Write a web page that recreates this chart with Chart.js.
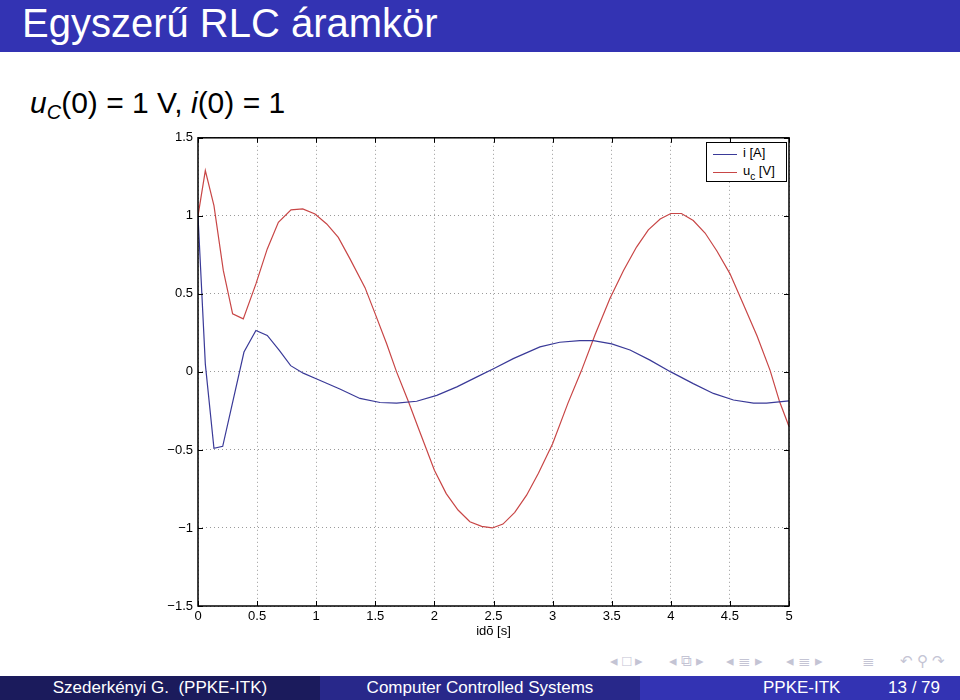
<!DOCTYPE html>
<html>
<head>
<meta charset="utf-8">
<script src="https://cdn.jsdelivr.net/npm/chart.js@4.4.1/dist/chart.umd.min.js"></script>
<style>
  html, body { margin: 0; padding: 0; }
  body { width: 960px; height: 700px; position: relative; overflow: hidden; background: #fff; font-family: "Liberation Sans", Arial, sans-serif; }
  #titlebar { position: absolute; left: 0; top: 0; width: 960px; height: 52px; background: #3333b3; }
  #titlebar span { position: absolute; left: 22px; top: 1px; color: #fff; font-size: 40px; }
  #subtitle { position: absolute; left: 30px; top: 86px; font-size: 30px; color: #000; }
  #subtitle sub { font-size: 20px; vertical-align: -6px; }
  #plot { position: absolute; left: 140px; top: 125px; }
  #legend { position: absolute; left: 706px; top: 142px; width: 79px; height: 38px; border: 1px solid #000; background: #fff; font-size: 13px; }
  #legend .row { position: absolute; left: 0; height: 16px; }
  #legend .sw { position: absolute; left: 6px; width: 24px; height: 0; border-top: 1px solid; }
  #legend .lbl { position: absolute; left: 36px; top: -9px; white-space: nowrap; }
  #legend sub { font-size: 10px; vertical-align: -5px; }
  .nav { position: absolute; top: 652px; font-size: 15px; color: #c4c4d4; white-space: nowrap; }
  #footer { position: absolute; left: 0; top: 676px; width: 960px; height: 24px; color: #fff; font-size: 17px; }
  #footer div { position: absolute; top: 0; height: 24px; line-height: 24px; }
</style>
</head>
<body>
<div id="titlebar"><span>Egyszerű RLC áramkör</span></div>
<div id="subtitle"><i>u</i><sub><i>C</i></sub>(0) = 1 V, <i>i</i>(0) = 1</div>

<div id="plot"><canvas id="chart1" width="660" height="518"></canvas></div>

<div id="legend">
  <div class="row" style="top:11px"><div class="sw" style="border-color:#3a3a98"></div><div class="lbl">i [A]</div></div>
  <div class="row" style="top:29px"><div class="sw" style="border-color:#c84646"></div><div class="lbl">u<sub>c</sub> [V]</div></div>
</div>

<div class="nav" style="left:610px">◂ □ ▸</div>
<div class="nav" style="left:669px">◂ ⧉ ▸</div>
<div class="nav" style="left:726px">◂ ≣ ▸</div>
<div class="nav" style="left:786px">◂ ≣ ▸</div>
<div class="nav" style="left:862px">≣</div>
<div class="nav" style="left:900px">↶ ⚲ ↷</div>

<div id="footer">
  <div style="left:0;width:320px;background:#1b1b5c;text-align:center">Szederkényi G. &nbsp;(PPKE-ITK)</div>
  <div style="left:320px;width:320px;background:#28288a;text-align:center">Computer Controlled Systems</div>
  <div style="left:640px;width:320px;background:#3333b3">
    <span style="position:absolute;left:123px">PPKE-ITK</span>
    <span style="position:absolute;left:248px">13 / 79</span>
  </div>
</div>

<script>
// time samples and values
var tI = [0, 0.062, 0.135, 0.209, 0.389, 0.49, 0.586, 0.688, 0.784, 0.89, 1.0, 1.2, 1.37, 1.54, 1.68, 1.85, 2.02, 2.19, 2.36, 2.5, 2.667, 2.893, 3.06, 3.23, 3.345, 3.5, 3.655, 3.82, 4.0, 4.19, 4.36, 4.53, 4.7, 4.81, 5.0];
var iVals = [1.0, 0.05, -0.49, -0.477, 0.127, 0.265, 0.234, 0.138, 0.04, -0.008, -0.044, -0.11, -0.17, -0.196, -0.2, -0.188, -0.15, -0.096, -0.032, 0.02, 0.085, 0.16, 0.19, 0.2, 0.2, 0.18, 0.14, 0.077, 0.0, -0.075, -0.138, -0.18, -0.2, -0.2, -0.185];

var tU = [0, 0.062, 0.135, 0.214, 0.293, 0.383, 0.49, 0.586, 0.68, 0.787, 0.886, 0.99, 1.089, 1.187, 1.286, 1.413, 1.5, 1.596, 1.68, 1.78, 1.864, 1.935, 2.0, 2.1, 2.2, 2.3, 2.4, 2.49, 2.58, 2.68, 2.78, 2.88, 3.0, 3.13, 3.245, 3.36, 3.485, 3.6, 3.71, 3.81, 3.91, 4.0, 4.09, 4.19, 4.29, 4.39, 4.5, 4.61, 4.73, 4.84, 4.92, 5.0];
var uVals = [1.0, 1.29, 1.065, 0.65, 0.372, 0.34, 0.564, 0.788, 0.958, 1.038, 1.044, 1.012, 0.948, 0.862, 0.724, 0.54, 0.37, 0.18, 0.0, -0.19, -0.36, -0.5, -0.63, -0.78, -0.885, -0.96, -0.99, -1.0, -0.975, -0.9, -0.79, -0.65, -0.46, -0.2, 0.01, 0.24, 0.47, 0.65, 0.8, 0.91, 0.98, 1.015, 1.015, 0.97, 0.89, 0.775, 0.63, 0.44, 0.23, 0.01, -0.19, -0.35];

var xTicks = [0, 0.5, 1, 1.5, 2, 2.5, 3, 3.5, 4, 4.5, 5];
var yTicks = [-1.5, -1, -0.5, 0, 0.5, 1, 1.5];

function toPoints(xs, ys) {
  return xs.map(function (x, k) { return { x: x, y: ys[k] }; });
}

// matlab style box with inward tick marks
var boxPlugin = {
  id: "box",
  afterDraw: function (chart) {
    var ctx = chart.ctx, a = chart.chartArea;
    var sx = chart.scales.x, sy = chart.scales.y;
    ctx.save();
    ctx.strokeStyle = "#000";
    ctx.lineWidth = 1;
    ctx.beginPath();
    xTicks.forEach(function (v) {
      var p = Math.round(sx.getPixelForValue(v)) + 0.5;
      ctx.moveTo(p, a.bottom); ctx.lineTo(p, a.bottom - 5);
      ctx.moveTo(p, a.top); ctx.lineTo(p, a.top + 5);
    });
    yTicks.forEach(function (v) {
      var p = Math.round(sy.getPixelForValue(v)) + 0.5;
      ctx.moveTo(a.left, p); ctx.lineTo(a.left + 5, p);
      ctx.moveTo(a.right, p); ctx.lineTo(a.right - 5, p);
    });
    ctx.stroke();
    ctx.lineWidth = 1.5;
    ctx.strokeRect(a.left, a.top, a.right - a.left, a.bottom - a.top);
    ctx.restore();
  },
};

var ctx = document.getElementById("chart1").getContext("2d");
var myChart = new Chart(ctx, {
  type: "line",
  data: {
    datasets: [
      {
        label: "i [A]",
        data: toPoints(tI, iVals),
        borderColor: "#3a3a98",
        borderWidth: 1.2,
        pointRadius: 0,
        tension: 0,
        fill: false,
      },
      {
        label: "u_c [V]",
        data: toPoints(tU, uVals),
        borderColor: "#c84646",
        borderWidth: 1.2,
        pointRadius: 0,
        tension: 0,
        fill: false,
      },
    ],
  },
  options: {
    responsive: false,
    animation: false,
    layout: { padding: { top: 12, right: 11, left: 0, bottom: 0 } },
    plugins: {
      legend: { display: false },
      tooltip: { enabled: false },
    },
    scales: {
      x: {
        type: "linear",
        min: 0,
        max: 5,
        afterBuildTicks: function (scale) {
          scale.ticks = xTicks.map(function (v) { return { value: v }; });
        },
        afterFit: function (scale) { scale.height = 37; },
        grid: { color: "#9a9a9a", lineWidth: 1, drawTicks: false },
        border: { display: false, dash: [1, 3] },
        ticks: {
          color: "#000",
          padding: 3,
          maxRotation: 0,
          font: { family: "Liberation Sans", size: 13 },
          callback: function (v) { return String(v); },
        },
        title: {
          display: true,
          text: "idõ [s]",
          color: "#000",
          font: { family: "Liberation Sans", size: 13 },
        },
      },
      y: {
        min: -1.5,
        max: 1.5,
        afterBuildTicks: function (scale) {
          scale.ticks = yTicks.map(function (v) { return { value: v }; });
        },
        afterFit: function (scale) { scale.width = 58; },
        grid: { color: "#9a9a9a", lineWidth: 1, drawTicks: false },
        border: { display: false, dash: [1, 3] },
        ticks: {
          color: "#000",
          padding: 5,
          font: { family: "Liberation Sans", size: 13 },
          callback: function (v) { return String(v).replace("-", "\u2212"); },
        },
      },
    },
  },
  plugins: [boxPlugin],
});
</script>
</body>
</html>
